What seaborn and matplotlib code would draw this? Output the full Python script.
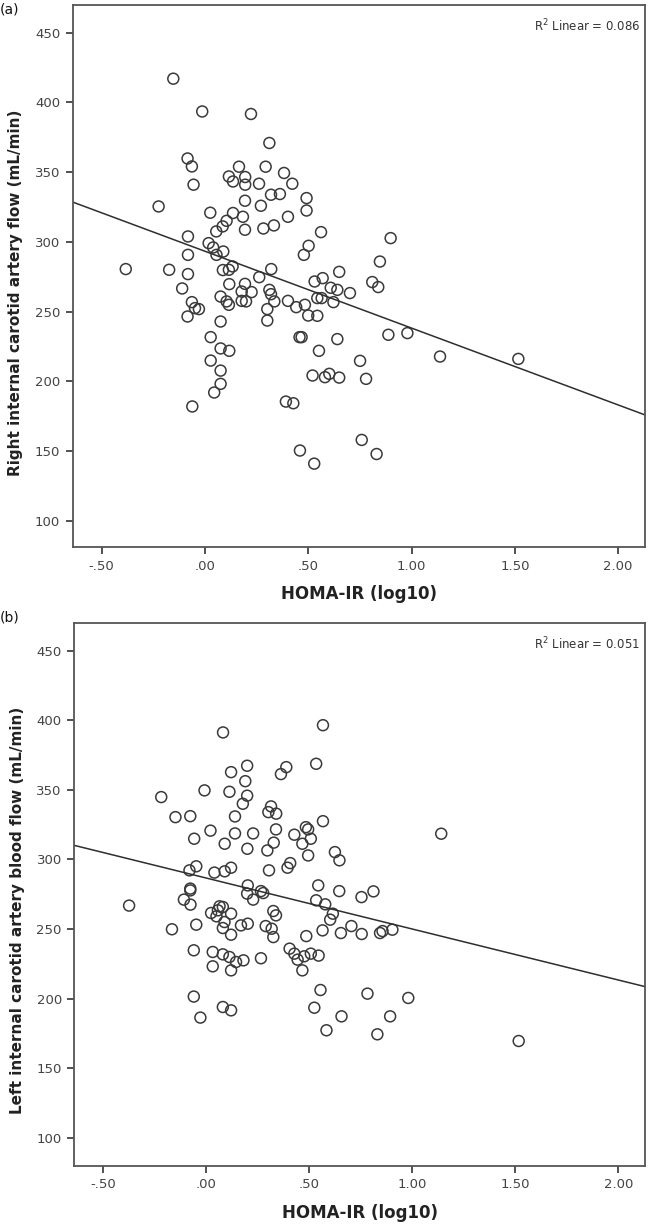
import numpy as np
import pandas as pd
import seaborn as sns
import matplotlib.pyplot as plt

# panel (a): right ICA flow vs HOMA-IR
homa_a = [-0.153, -0.013, 0.223, 0.312, -0.084, -0.063, -0.055, 0.165, 0.294, 0.383,
          0.423, 0.116, 0.136, 0.195, 0.195, 0.262, 0.320, 0.363, 0.492, 0.492,
          0.194, 0.271, -0.224, 0.026, 0.136, 0.184, 0.402, 0.105, 0.086, 0.055,
          0.194, 0.283, 0.334, 0.562, -0.082, 0.018, 0.040, 0.056, 0.089, 0.502,
          0.479, -0.082, -0.383, -0.173, -0.082, 0.087, 0.116, 0.134, 0.321, 0.263,
          0.650, 0.531, 0.570, 0.609, 0.641, 0.702, -0.110, 0.118, 0.194, 0.178,
          0.226, 0.312, 0.320, 0.076, 0.178, 0.199, 0.336, 0.105, 0.116, -0.063,
          -0.048, -0.029, -0.084, 0.302, 0.302, 0.402, 0.442, 0.484, 0.500, 0.544,
          0.544, 0.565, 0.622, 0.076, 0.028, 0.076, 0.118, 0.028, 0.076, 0.076,
          0.045, -0.061, 0.458, 0.468, 0.641, 0.552, 0.521, 0.581, 0.602, 0.650,
          0.392, 0.428, 0.460, 0.529, 0.899, 0.847, 0.810, 0.839, 0.888, 0.980,
          1.138, 1.517, 0.751, 0.780, 0.759, 0.831]
flow_a = [417.0, 393.5, 391.7, 370.9, 359.8, 354.1, 341.0, 353.9, 353.9, 349.4,
          341.7, 346.9, 343.3, 346.5, 341.0, 341.7, 333.8, 334.3, 331.4, 322.5,
          329.5, 325.9, 325.4, 320.9, 320.7, 318.0, 318.0, 315.1, 311.1, 307.5,
          308.7, 309.6, 311.8, 307.0, 303.9, 299.1, 296.0, 290.7, 293.1, 297.2,
          290.7, 290.7, 280.5, 280.0, 276.9, 279.8, 280.0, 282.4, 280.5, 274.7,
          278.5, 271.6, 274.0, 267.1, 265.6, 263.3, 266.6, 269.7, 269.9, 264.4,
          264.0, 265.6, 262.5, 260.8, 257.7, 257.3, 257.3, 257.3, 254.9, 256.8,
          252.5, 251.8, 246.5, 251.8, 243.6, 257.7, 253.2, 254.9, 247.2, 247.0,
          259.7, 259.7, 256.8, 242.9, 231.7, 223.6, 221.9, 214.9, 207.7, 198.2,
          192.0, 182.0, 231.7, 231.7, 230.3, 221.9, 204.2, 203.0, 205.4, 202.7,
          185.5, 184.3, 150.4, 141.0, 302.7, 285.9, 271.2, 267.6, 233.4, 234.6,
          217.8, 216.1, 214.7, 201.8, 158.0, 147.9]

# panel (b): left ICA blood flow vs HOMA-IR
homa_b = [0.082, 0.567, 0.534, 0.121, 0.199, 0.190, 0.363, 0.389, -0.218, -0.008,
          0.113, 0.199, 0.178, -0.149, -0.077, 0.140, 0.315, 0.302, 0.340, 0.567,
          0.021, -0.058, 0.140, 0.228, 0.339, 0.484, 0.495, 0.428, 0.090, 0.328,
          0.467, 0.508, 0.200, 0.297, 0.495, 0.625, 0.647, -0.081, -0.048, 0.040,
          0.090, 0.121, 0.305, 0.395, 0.408, 0.754, -0.374, -0.077, -0.077, 0.202,
          0.199, 0.228, 0.266, 0.277, 0.544, 0.646, 0.534, 0.578, -0.108, -0.076,
          0.615, 0.602, 0.065, 0.081, 0.057, 0.024, 0.050, 0.121, 0.089, 0.081,
          0.121, -0.048, -0.166, 0.169, 0.202, 0.326, 0.339, 0.289, 0.318, 0.326,
          -0.060, 0.032, 0.081, 0.113, 0.145, 0.181, 0.266, 0.032, 0.121, 0.405,
          0.428, 0.444, 0.476, 0.508, 0.546, 0.467, 0.486, 0.565, 0.654, 0.705,
          0.755, -0.060, -0.028, 0.081, 0.121, 0.555, 0.525, 0.657, 0.584, 1.141,
          0.812, 0.844, 0.856, 0.904, 0.783, 0.981, 0.893, 0.831, 1.517]
flow_b = [391.2, 396.4, 368.7, 362.7, 367.3, 356.2, 361.3, 366.3, 344.8, 349.6,
          348.6, 345.8, 340.0, 330.4, 331.1, 330.9, 338.1, 334.0, 332.9, 327.5,
          320.7, 314.9, 318.7, 318.7, 321.6, 323.2, 321.6, 317.8, 311.3, 312.1,
          311.3, 314.9, 307.7, 306.5, 302.9, 305.3, 299.4, 292.2, 295.1, 290.6,
          291.5, 294.1, 292.2, 294.1, 297.4, 273.0, 266.9, 279.1, 277.8, 281.4,
          275.5, 271.2, 277.3, 275.9, 281.4, 277.3, 270.7, 267.8, 271.2, 267.6,
          261.1, 256.8, 266.4, 265.9, 263.5, 261.6, 259.2, 261.1, 255.1, 250.8,
          246.0, 253.2, 249.9, 252.7, 253.9, 263.0, 259.9, 252.2, 250.3, 244.3,
          234.8, 233.6, 231.9, 230.0, 226.4, 227.6, 229.1, 223.3, 220.4, 236.0,
          232.4, 228.1, 230.5, 232.4, 231.0, 220.4, 245.0, 249.1, 247.2, 252.2,
          246.5, 201.6, 186.5, 194.1, 191.7, 206.3, 193.6, 187.4, 177.4, 318.5,
          277.1, 247.2, 248.6, 249.6, 203.7, 200.6, 187.4, 174.5, 169.7]

# fitted lines as drawn in the figure (intercept, slope)
fit_a = (293.3, -55.1)
fit_b = (286.7, -36.6)

x_ticks = [-0.5, 0.0, 0.5, 1.0, 1.5, 2.0]
x_tick_labels = ['-.50', '.00', '.50', '1.00', '1.50', '2.00']
y_ticks = [100, 150, 200, 250, 300, 350, 400, 450]
x_range = (-0.64, 2.13)

panels = [
    ('(a)', homa_a, flow_a, fit_a, 'Right internal carotid artery flow (mL/min)', '0.086'),
    ('(b)', homa_b, flow_b, fit_b, 'Left internal carotid artery blood flow (mL/min)', '0.051'),
]
positions = [[0.1118, 0.5532, 0.8805, 0.4429],
             [0.1143, 0.0482, 0.8780, 0.4435]]
ylims = [(81, 470), (80, 470)]

sns.set_style('ticks')
plt.rcParams['font.family'] = ['DejaVu Sans']
ink = '#333333'

fig = plt.figure(figsize=(6.5, 12.25), dpi=100)

for i, (tag, hx, fy, fit, ylab, r2) in enumerate(panels):
    ax = fig.add_axes(positions[i])
    df = pd.DataFrame({'homa': hx, 'flow': fy})

    sns.scatterplot(data=df, x='homa', y='flow', ax=ax, marker='o', s=62,
                    facecolor='none', edgecolor='#3a3a3a', linewidth=1.1)

    line = pd.DataFrame({'homa': list(x_range)})
    line['flow'] = fit[0] + fit[1] * line['homa']
    sns.lineplot(data=line, x='homa', y='flow', ax=ax, color='#2e2e2e', lw=1.1)

    ax.set_xlim(*x_range)
    ax.set_ylim(*ylims[i])
    ax.set_xticks(x_ticks)
    ax.set_xticklabels(x_tick_labels)
    ax.set_yticks(y_ticks)
    ax.tick_params(direction='out', length=5, width=1.2, color=ink,
                   labelsize=9.5, labelcolor='#444444', pad=4)
    for sp in ax.spines.values():
        sp.set_visible(True)
        sp.set_color('#555555')
        sp.set_linewidth(1.3)

    ax.set_xlabel('HOMA-IR (log10)', fontsize=12, fontweight='bold',
                  color='#222222', labelpad=9)
    ax.set_ylabel(ylab, fontsize=11, fontweight='bold', color='#222222')
    ax.yaxis.set_label_coords(-0.087, 0.47)

    ax.text(0.992, 0.96, r'R$^2$ Linear = ' + r2, transform=ax.transAxes,
            ha='right', va='center', fontsize=8.5, color=ink)

fig.text(0.0, 0.992, '(a)', fontsize=10, ha='left', va='center', color='#111111')
fig.text(0.0, 0.496, '(b)', fontsize=10, ha='left', va='center', color='#111111')

fig.savefig('out.png', dpi=100)
